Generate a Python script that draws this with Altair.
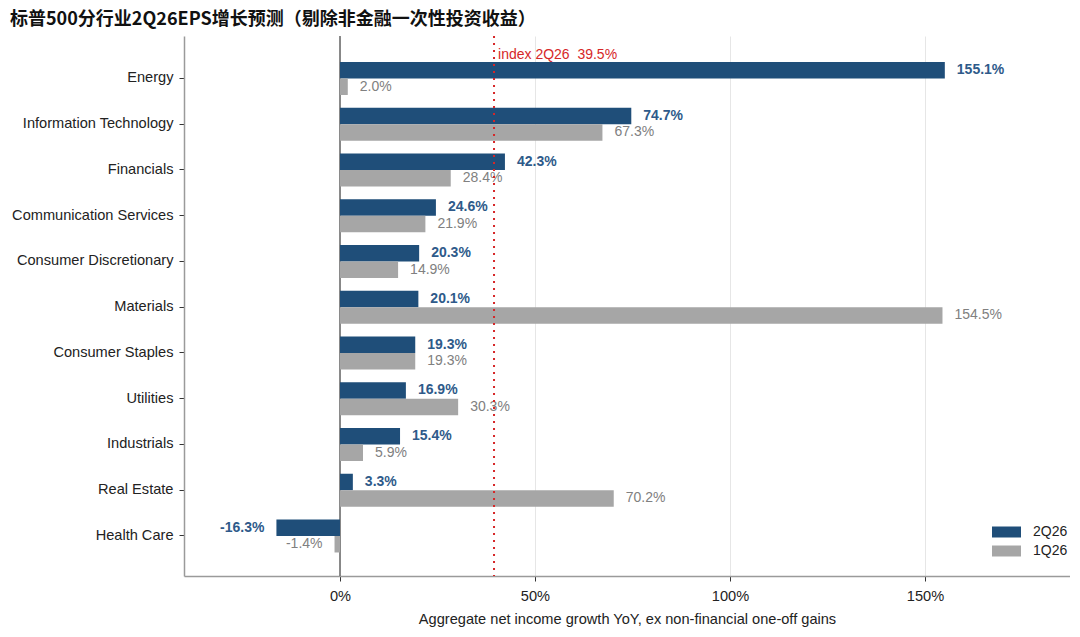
import altair as alt
import pandas as pd

categories = ["Energy", "Information Technology", "Financials", "Communication Services",
              "Consumer Discretionary", "Materials", "Consumer Staples", "Utilities",
              "Industrials", "Real Estate", "Health Care"]
q2_values = [155.1, 74.7, 42.3, 24.6, 20.3, 20.1, 19.3, 16.9, 15.4, 3.3, -16.3]
q1_values = [2.0, 67.3, 28.4, 21.9, 14.9, 154.5, 19.3, 30.3, 5.9, 70.2, -1.4]
series = ["2Q26", "1Q26"]
index_value = 39.5
index_label = "index 2Q26\u00a0\u00a039.5%"
x_ticks = [0, 50, 100, 150]
title_text = "标普500分行业2Q26EPS增长预测（剔除非金融一次性投资收益）"
x_title = "Aggregate net income growth YoY, ex non-financial one-off gains"

rows = []
for c, a, b in zip(categories, q2_values, q1_values):
    rows.append({"category": c, "series": "2Q26", "value": a})
    rows.append({"category": c, "series": "1Q26", "value": b})
df = pd.DataFrame(rows)

FONT = "Liberation Sans"
BLUE = "#1f4e79"
GRAY = "#a6a6a6"

xscale = alt.Scale(domain=[-40, 187.2], nice=False, zero=False)
yscale = alt.Scale(domain=categories, paddingInner=0.279, paddingOuter=0.541, align=0.525)
oscale = alt.Scale(domain=series, paddingInner=0, paddingOuter=0)

base = alt.Chart(df).transform_calculate(
    label="replace(format(datum.value, '.1f'), '\u2212', '-') + '%'"
)

bars = base.mark_bar().encode(
    y=alt.Y("category:N", sort=categories, scale=yscale,
            axis=alt.Axis(title=None, labelFont=FONT, labelFontSize=14.6, labelColor="#222222",
                          tickSize=5, tickColor="#333333", labelPadding=6,
                          domainColor="#9a9a9a", domainWidth=1.5, grid=False)),
    yOffset=alt.YOffset("series:N", sort=series, scale=oscale),
    x=alt.X("value:Q", scale=xscale,
            axis=alt.Axis(title=x_title, values=x_ticks, labelExpr="datum.value + '%'",
                          labelFont=FONT, labelFontSize=14.6, labelColor="#222222",
                          titleFont=FONT, titleFontSize=14.6, titleFontWeight="normal", titleColor="#222222",
                          tickSize=5, tickColor="#333333", labelPadding=7, titlePadding=9,
                          domainColor="#9a9a9a", domainWidth=1.5,
                          grid=True, gridColor="#e6e6e6", gridWidth=1)),
    color=alt.Color("series:N", sort=series,
                    scale=alt.Scale(domain=series, range=[BLUE, GRAY]),
                    legend=alt.Legend(title=None, orient="none", legendX=812.5, legendY=486,
                                      symbolType="M-1.45,-0.55H1.45V0.55H-1.45Z", symbolSize=400,
                                      symbolStrokeWidth=0, labelFont=FONT, labelFontSize=14,
                                      labelColor="#222222", rowPadding=2, labelOffset=16.5)),
)

def labels(ser, positive, color, weight):
    cond = ("datum.value >= 0" if positive else "datum.value < 0")
    return base.transform_filter(
        f"datum.series == '{ser}' && {cond}"
    ).mark_text(
        align="left" if positive else "right", baseline="middle",
        dx=12 if positive else -12, font=FONT, fontSize=14,
        fontWeight=weight, color=color,
    ).encode(
        y=alt.Y("category:N", sort=categories, scale=yscale),
        yOffset=alt.YOffset("series:N", sort=series, scale=oscale),
        x=alt.X("value:Q", scale=xscale),
        text="label:N",
    )

ref_df = pd.DataFrame({"x": [index_value], "label": [index_label]})
zero_df = pd.DataFrame({"x": [0]})

zero_rule = alt.Chart(zero_df).mark_rule(color="#666666", strokeWidth=1.5).encode(
    x=alt.X("x:Q", scale=xscale)
)
ref_rule = alt.Chart(ref_df).mark_rule(color="#d62728", strokeWidth=2, strokeDash=[2, 5]).encode(
    x=alt.X("x:Q", scale=xscale)
)
ref_text = alt.Chart(ref_df).mark_text(
    align="left", baseline="middle", dx=4, font=FONT, fontSize=14, color="#d62728"
).encode(
    x=alt.X("x:Q", scale=xscale), y=alt.value(19), text="label:N"
)

chart = alt.layer(
    zero_rule, bars,
    labels("2Q26", True, "#2e5a8a", "bold"),
    labels("2Q26", False, "#2e5a8a", "bold"),
    labels("1Q26", True, "#808080", "normal"),
    labels("1Q26", False, "#808080", "normal"),
    ref_rule, ref_text,
).properties(
    width=886, height=540,
    title=alt.TitleParams(title_text, anchor="start", frame="group", dx=-174, offset=6,
                          font="Noto Sans CJK SC", fontSize=18, fontWeight="bold", color="#111111"),
    autosize=alt.AutoSizeParams(type="none"),
    padding={"left": 176, "top": 28, "right": 0, "bottom": 53},
).configure_view(stroke=None)

chart.save("out.html", embed_options={"renderer": "svg", "actions": False})
